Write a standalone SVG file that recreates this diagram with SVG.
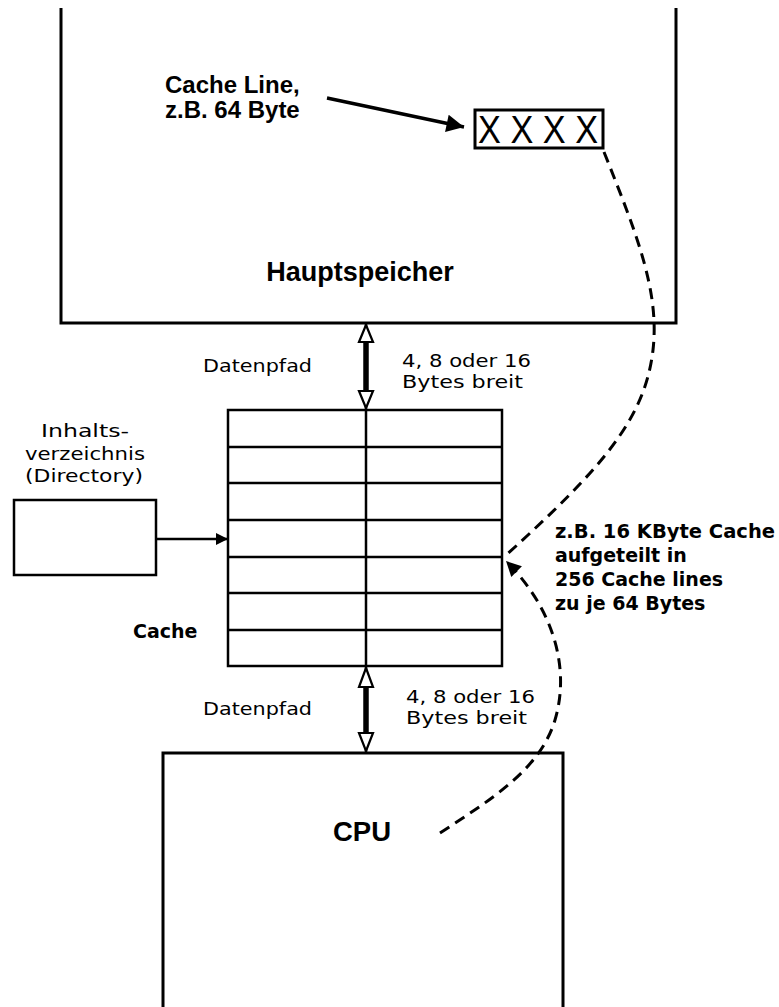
<svg xmlns="http://www.w3.org/2000/svg" width="779" height="1007" viewBox="0 0 779 1007">
<style>
.ln{fill:none;stroke:#000;stroke-width:3}
.thin{fill:none;stroke:#000;stroke-width:2.5}
.dash{fill:none;stroke:#000;stroke-width:3;stroke-dasharray:11 7}
.hol{fill:#fff;stroke:#000;stroke-width:2.2;stroke-linejoin:miter}
.lab{font-family:"DejaVu Sans",sans-serif;font-size:18px;fill:#000}
.bt{font-family:"DejaVu Sans",sans-serif;font-weight:bold;font-size:19px;fill:#000}
.ar{font-family:"Liberation Sans",Arial,sans-serif;font-weight:bold;fill:#000}
</style>
<defs>
<marker id="fa" viewBox="0 0 10 10" refX="10" refY="5" markerWidth="7" markerHeight="5" markerUnits="strokeWidth" orient="auto">
<path d="M0,0 L10,5 L0,10 z" fill="#000"/>
</marker>
<marker id="fa2" viewBox="0 0 10 10" refX="10" refY="5" markerWidth="5" markerHeight="6" markerUnits="strokeWidth" orient="auto">
<path d="M0,0 L10,5 L0,10 z" fill="#000"/>
</marker>
</defs>
<rect width="779" height="1007" fill="#fff"/>

<g id="hauptspeicher">
<path class="ln" d="M61,8 V323 H676 V8"/>
<text class="ar" x="360" y="281" font-size="27" text-anchor="middle">Hauptspeicher</text>
</g>

<g id="cacheline">
<rect class="ln" x="475" y="110" width="128" height="38"/>
<text x="478" y="143" font-family="'Liberation Sans',Arial,sans-serif" font-size="38" textLength="120" lengthAdjust="spacingAndGlyphs">X X X X</text>
</g>

<g id="cacheline-label">
<text class="ar" font-size="24"><tspan x="165" y="93">Cache Line,</tspan><tspan x="165" y="118">z.B. 64 Byte</tspan></text>
</g>

<g id="cache">
<rect class="thin" x="228" y="410" width="274" height="256"/>
<path class="thin" d="M228,447 H502 M228,483 H502 M228,520 H502 M228,557 H502 M228,593 H502 M228,630 H502"/>
<text class="bt" x="133" y="638" font-size="20.5">Cache</text>
</g>

<g id="directory">
<rect class="thin" x="14" y="500" width="142" height="75"/>
<text class="lab" x="41" y="437" textLength="88" lengthAdjust="spacingAndGlyphs">Inhalts-</text>
<text class="lab" x="25" y="460" textLength="120" lengthAdjust="spacingAndGlyphs">verzeichnis</text>
<text class="lab" x="25" y="482" textLength="118" lengthAdjust="spacingAndGlyphs">(Directory)</text>
</g>

<g id="cache-info">
<text class="bt"><tspan x="555" y="538" textLength="220" lengthAdjust="spacingAndGlyphs">z.B. 16 KByte Cache</tspan><tspan x="555" y="562">aufgeteilt in</tspan><tspan x="555" y="586">256 Cache lines</tspan><tspan x="555" y="610">zu je 64 Bytes</tspan></text>
</g>

<g id="cpu">
<path class="ln" d="M163,1007 V753 H563 V1007"/>
<text class="ar" x="362" y="841" font-size="27.5" text-anchor="middle">CPU</text>
</g>

<g id="datapath-labels">
<text class="lab" x="203" y="372" textLength="109" lengthAdjust="spacingAndGlyphs">Datenpfad</text>
<text class="lab" x="402" y="367" textLength="129" lengthAdjust="spacingAndGlyphs">4, 8 oder 16</text>
<text class="lab" x="402" y="388" textLength="121" lengthAdjust="spacingAndGlyphs">Bytes breit</text>
<text class="lab" x="203" y="715" textLength="109" lengthAdjust="spacingAndGlyphs">Datenpfad</text>
<text class="lab" x="406" y="703" textLength="129" lengthAdjust="spacingAndGlyphs">4, 8 oder 16</text>
<text class="lab" x="406" y="724" textLength="121" lengthAdjust="spacingAndGlyphs">Bytes breit</text>
</g>

<g id="connectors">
<line x1="366" y1="323" x2="366" y2="753" stroke="#000" stroke-width="2.5"/>
<line x1="366" y1="341" x2="366" y2="392" stroke="#000" stroke-width="5.5"/>
<path class="hol" d="M366,325 L373,342 L359,342 Z"/>
<path class="hol" d="M366,408 L373,391 L359,391 Z"/>
<line x1="366" y1="686" x2="366" y2="735" stroke="#000" stroke-width="5.5"/>
<path class="hol" d="M366,668 L373,687 L359,687 Z"/>
<path class="hol" d="M366,751 L373,733 L359,733 Z"/>
<line x1="327" y1="98" x2="464" y2="127" stroke="#000" stroke-width="3.5" marker-end="url(#fa)"/>
<line x1="156" y1="539" x2="228" y2="539" stroke="#000" stroke-width="2.5" marker-end="url(#fa2)"/>
<path class="dash" d="M604,152 C635,230 660,290 653,350 C645,420 600,470 504,557"/>
<path class="dash" d="M440,833 C490,800 540,770 555,720 C570,670 555,610 506,561" marker-end="url(#fa)"/>
</g>
</svg>
